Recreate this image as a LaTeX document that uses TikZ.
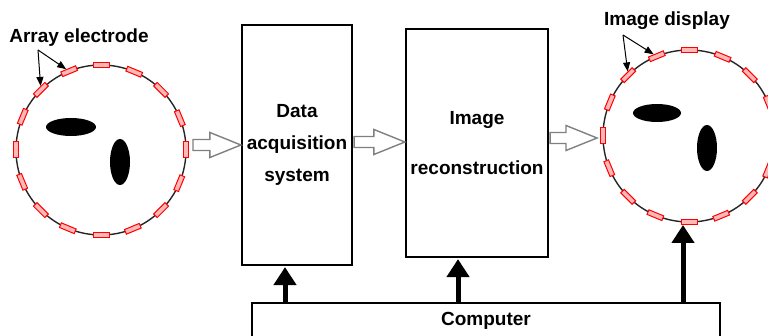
\documentclass[tikz,border=0pt]{standalone}
\usepackage{fontspec}
\setmainfont{Liberation Sans}
\usetikzlibrary{arrows.meta,calc,shapes.geometric}

% hollow block arrow from the y of #1 to the x of #2
\newcommand\hollowarrow[2]{%
  \path[draw=black!50, line width=1.4pt, fill=white, line join=miter]
    let \p1=(#1), \p2=(#2) in
    (\x1,\y1+5.5pt) -- (\x2-31pt,\y1+5.5pt) -- (\x2-31pt,\y1+12.5pt) -- (\x2,\y1)
    -- (\x2-31pt,\y1-12.5pt) -- (\x2-31pt,\y1-5.5pt) -- (\x1,\y1-5.5pt) -- cycle;}

\begin{document}
\begin{tikzpicture}[x=1pt,y=1pt,
  lbl/.style={font=\fontsize{19}{22}\selectfont\bfseries, inner sep=0},
  block/.style={draw, line width=2.2pt, inner sep=0, align=center},
  tank/.style={circle, draw=black!85, line width=1.4pt, minimum size=170pt, inner sep=0, outer sep=0},
  electrode/.style={rectangle, draw=red, fill=red!28, line width=1pt,
    minimum width=16pt, minimum height=5pt, inner sep=0},
  blob/.style={ellipse, fill=black, inner sep=0},
  pointer/.style={line width=1pt, -{Triangle[length=9pt,width=7pt]}},
  feed/.style={line width=5pt, -{Triangle[length=18pt,width=22pt]}},
]
\useasboundingbox[fill=white] (0,0) rectangle (768,336);

% ---- object under test (left) ----
\node[tank] (lc) at (101,186) {};
\node[blob, minimum width=50pt, minimum height=18pt] (lb1) at (71,209) {};
\node[blob, minimum width=20pt, minimum height=46pt] (lb2) at (120,174) {};
\foreach \i in {0,...,15}{
  \pgfmathsetmacro\a{22.5*\i}
  \pgfmathsetmacro\r{22.5*\i-90}
  \node[electrode, rotate=\r] (le\i) at (lc.\a) {};
}

% ---- reconstructed image (right) ----
\node[tank, minimum size=172pt] (rc) at (689,200) {};
\node[blob, minimum width=48pt, minimum height=18pt] (rb1) at (657,223) {};
\node[blob, minimum width=20pt, minimum height=46pt] (rb2) at (707,188) {};
\foreach \i in {0,...,15}{
  \pgfmathsetmacro\a{22.5*\i}
  \pgfmathsetmacro\r{22.5*\i-90}
  \node[electrode, rotate=\r] (re\i) at (rc.\a) {};
}

% ---- labels with pointers ----
\node[lbl] (ltitle) at (79,298) {Array electrode};
\coordinate (lp) at (38,286);
\draw[pointer] (lp) -- (le6);
\draw[pointer] (lp) -- (le5);

\node[lbl] (rtitle) at (667,315) {Image display};
\coordinate (rp) at (623,301);
\draw[pointer] (rp) -- (re6);
\draw[pointer] (rp) -- (re5);

% ---- processing blocks ----
\node[block, minimum width=110pt, minimum height=240pt,
  font=\fontsize{19}{32}\selectfont\bfseries] (box1) at (297,191)
  {Data\\acquisition\\system};
\node[block, minimum width=142pt, minimum height=228pt,
  font=\fontsize{19}{50}\selectfont\bfseries] (box2) at (477,193)
  {Image\\reconstruction};
\node[block, minimum width=468pt, minimum height=35pt,
  font=\fontsize{19}{22}\selectfont\bfseries] (comp) at (486,15.5) {Computer};

% ---- data flow ----
\coordinate (h1s) at ($(lc.east)+(7,5)$);
\hollowarrow{h1s}{box1.west}
\coordinate (h2s) at ($(box1.east)+(1,3)$);
\hollowarrow{h2s}{box2.west}
\coordinate (h3s) at ($(box2.east)+(1,5)$);
\coordinate (h3e) at ($(rc.west)+(-6,0)$);
\hollowarrow{h3s}{h3e}

% ---- control from the computer ----
\draw[feed] ($(comp.north -| box1.south)+(-12,0)$) -- ($(box1.south)+(-12,-1)$);
\draw[feed] ($(comp.north -| box2.south)+(-19,0)$) -- ($(box2.south)+(-19,-1)$);
\draw[feed] ($(comp.north -| rc.south)+(-6,0)$) -- ($(rc.south)+(-6,-3)$);
\end{tikzpicture}
\end{document}
